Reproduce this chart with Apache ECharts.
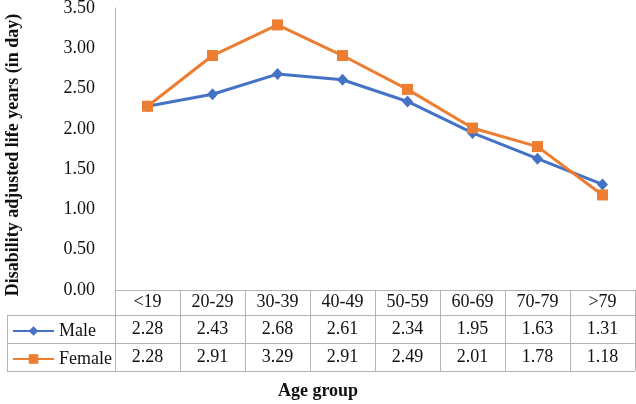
<!DOCTYPE html>
<html><head><meta charset="utf-8">
<script src="https://cdn.jsdelivr.net/npm/echarts@6/dist/echarts.min.js"></script>
<style>html,body{margin:0;padding:0;background:#fff}#c{width:636px;height:404px}</style>
</head><body><div id="c"></div>
<script>
const categories = ['<19','20-29','30-39','40-49','50-59','60-69','70-79','>79'];
const male = [2.28, 2.43, 2.68, 2.61, 2.34, 1.95, 1.63, 1.31];
const female = [2.28, 2.91, 3.29, 2.91, 2.49, 2.01, 1.78, 1.18];
const seriesNames = ['Male', 'Female'];
const yTitle = 'Disability adjusted life years (in day)';
const xTitle = 'Age group';
const yMin = 0, yMax = 3.5, yStep = 0.5;

const FONT = "'Liberation Serif','Times New Roman',serif";
const TXT = '#111';
const GRID_C = '#b4b4b4';
const L = 115, R = 635, T = 8, B = 290;
const ROW1 = 315, ROW2 = 343, ROW3 = 371, TL = 7;

const chart = echarts.init(document.getElementById('c'), null, {renderer: 'canvas'});
const lbl = (m) => ({interval: 0, margin: m, verticalAlign: 'middle', fontSize: 18, fontFamily: FONT, color: TXT});
chart.setOption({
  animation: false,
  backgroundColor: '#fff',
  title: {
    text: xTitle, left: 'center', top: 382, padding: 0,
    textStyle: {fontFamily: FONT, fontSize: 18, fontWeight: 'bold', color: TXT}
  },
  grid: {left: L, right: 636 - R, top: T, bottom: 404 - B, containLabel: false, outerBoundsMode: 'none'},
  legend: {
    data: seriesNames, orient: 'vertical', left: 7, top: ROW1 + 2, itemWidth: 41, itemHeight: 12, itemGap: 10,
    textStyle: {fontFamily: FONT, fontSize: 18, lineHeight: 18, color: TXT}
  },
  xAxis: [
    {type: 'category', data: categories, position: 'bottom', boundaryGap: true,
     axisLine: {show: true, lineStyle: {color: GRID_C, width: 1}},
     axisTick: {show: true, interval: 0, length: ROW3 - B, lineStyle: {color: GRID_C, width: 1}},
     axisLabel: lbl((ROW1 - B) / 2)},
    {type: 'category', data: male.map(v => v.toFixed(2)), position: 'bottom', boundaryGap: true,
     axisLine: {show: false}, axisTick: {show: false}, axisLabel: lbl((ROW1 + ROW2) / 2 - B)},
    {type: 'category', data: female.map(v => v.toFixed(2)), position: 'bottom', boundaryGap: true,
     axisLine: {show: false}, axisTick: {show: false}, axisLabel: lbl((ROW2 + ROW3) / 2 - B)}
  ],
  yAxis: {
    type: 'value', min: yMin, max: yMax, interval: yStep,
    axisLine: {show: true, lineStyle: {color: GRID_C, width: 1}},
    axisTick: {show: false}, splitLine: {show: false},
    axisLabel: {margin: 20, fontSize: 18, fontFamily: FONT, color: TXT, formatter: v => v.toFixed(2)}
  },
  series: [
    {name: seriesNames[0], type: 'line', data: male, color: '#4472C4',
     lineStyle: {width: 3, color: '#4472C4'}, symbol: 'diamond', symbolSize: [11, 12], itemStyle: {color: '#4472C4'}, z: 2},
    {name: seriesNames[1], type: 'line', data: female, color: '#ED7D31',
     lineStyle: {width: 3, color: '#ED7D31'}, symbol: 'rect', symbolSize: 11, itemStyle: {color: '#ED7D31'}, z: 3}
  ],
  graphic: [
    {type: 'text', x: 13, y: 155, rotation: Math.PI / 2,
     style: {text: yTitle, align: 'center', verticalAlign: 'middle', fontFamily: FONT, fontSize: 18, fontWeight: 'bold', fill: TXT}},
    {type: 'line', shape: {x1: TL, y1: ROW1 + 0.5, x2: R, y2: ROW1 + 0.5}, style: {stroke: GRID_C, lineWidth: 1}},
    {type: 'line', shape: {x1: TL, y1: ROW2 + 0.5, x2: R, y2: ROW2 + 0.5}, style: {stroke: GRID_C, lineWidth: 1}},
    {type: 'line', shape: {x1: TL, y1: ROW3 + 0.5, x2: R, y2: ROW3 + 0.5}, style: {stroke: GRID_C, lineWidth: 1}},
    {type: 'line', shape: {x1: TL + 0.5, y1: ROW1, x2: TL + 0.5, y2: ROW3}, style: {stroke: GRID_C, lineWidth: 1}}
  ]
});
</script></body></html>
